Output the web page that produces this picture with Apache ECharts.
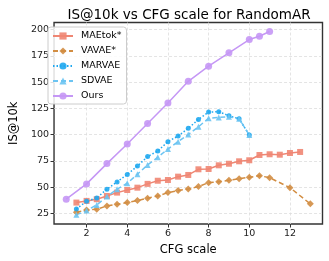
<!DOCTYPE html>
<html><head><meta charset="utf-8">
<script src="https://cdn.jsdelivr.net/npm/echarts@6/dist/echarts.min.js"></script>
<style>html,body{margin:0;padding:0;background:#fff}#c{width:329px;height:261px}</style>
</head><body><div id="c"></div>
<script>
const cfgMAEtok = [1.5,2,2.5,3,3.5,4,4.5,5,5.5,6,6.5,7,7.5,8,8.5,9,9.5,10,10.5,11,11.5,12,12.5];
const maetok = [35.2,36.8,38.4,41.5,44.7,47.2,49.4,53,56,56.7,59.9,61.5,66.9,67.2,70.7,72.2,74.5,75.5,80.5,81.2,80.8,82.4,83.4];
const cfgVAVAE = [1.5,2,2.5,3,3.5,4,4.5,5,5.5,6,6.5,7,7.5,8,8.5,9,9.5,10,10.5,11,12,13];
const vavae = [26,28.2,28.9,32,33.6,35.2,37.1,39.4,41.5,44.7,46.6,48.2,50.4,54.2,55.1,56.4,58,59.3,60.8,58.9,49.4,34];
const cfgMARVAE = [1.5,2,2.5,3,3.5,4,4.5,5,5.5,6,6.5,7,7.5,8,8.5,9,9.5,10];
const marvae = [29.2,36.4,39.6,48,54.9,62,70,79,84.3,93.2,98.6,105.9,114.4,121.4,121.7,117.9,115,99.5];
const cfgSDVAE = [1.5,2,2.5,3,3.5,4,4.5,5,5.5,6,6.5,7,7.5,8,8.5,9,9.5,10];
const sdvae = [23.5,27.6,33,40.9,48,53.6,62.2,71,78.3,86.2,93.2,100,107.4,115.4,116.3,116.9,115,99.5];
const cfgOurs = [1,2,3,4,5,6,7,8,9,10,10.5,11];
const ours = [38.4,53,72.3,91,110.5,130,150.7,165.1,177.8,190.5,193.6,198.1];
const xTicks = [2,4,6,8,10,12];
const yTicks = [25,50,75,100,125,150,175,200];
const names = ['MAEtok*','VAVAE*','MARVAE','SDVAE','Ours'];

const pairs = (xs, ys) => xs.map((x,i)=>[x, ys[i]]);
const F = 'DejaVu Sans';
function mk(name, xs, ys, color, lineType, symbol, size) {
  return {name, type:'line', data: pairs(xs, ys), symbol, symbolSize: size,
    lineStyle:{color, width:1.5, type: lineType}, itemStyle:{color, opacity:0.9},
    emphasis:{disabled:true}, animation:false, z: 3};
}
const chart = echarts.init(document.getElementById('c'), null, {renderer:'canvas'});
chart.setOption({
  animation:false,
  title:{text:'IS@10k vs CFG scale for RandomAR', left:184, textAlign:'center', top:3,
    textStyle:{fontFamily:F, fontSize:13.5, fontWeight:'normal', color:'#000'}},
  grid:{left:45, right:6.5, top:22.5, bottom:37, show:true, borderColor:'#333', borderWidth:1.4},
  legend:{orient:'vertical', left:48, top:27, itemWidth:20, itemHeight:9, itemGap:5,
    padding:[4,5,3,4], borderColor:'#ccc', borderWidth:1, borderRadius:3, backgroundColor:'rgba(255,255,255,0.85)',
    textStyle:{fontFamily:F, fontSize:9.5, color:'#000', padding:[0,0,0,3]}, data:names},
  xAxis:{type:'value', min:0.4, max:13.6, name:'CFG scale', nameLocation:'middle', nameGap:20,
    nameTextStyle:{fontFamily:F, fontSize:11.5, color:'#000'},
    axisLine:{show:false}, axisTick:{show:true, customValues:xTicks, length:3.5, lineStyle:{color:'#333'}},
    axisLabel:{customValues:xTicks, fontFamily:F, fontSize:9.5, color:'#222', margin:5},
    splitLine:{show:true, lineStyle:{color:'#ddd', type:[3,2], width:0.8}}},
  yAxis:{type:'value', min:14.8, max:206.7, name:'IS@10k', nameLocation:'middle', nameGap:29,
    nameTextStyle:{fontFamily:F, fontSize:11.5, color:'#000'},
    axisLine:{show:false}, axisTick:{show:true, customValues:yTicks, length:3.5, lineStyle:{color:'#333'}},
    axisLabel:{customValues:yTicks, fontFamily:F, fontSize:9.5, color:'#222', margin:5},
    splitLine:{show:true, lineStyle:{color:'#ddd', type:[3,2], width:0.8}}},
  series:[
    mk(names[0], cfgMAEtok, maetok, '#EF8673', 'solid', 'rect', 6),
    mk(names[1], cfgVAVAE, vavae, '#D28D42', [5,3], 'diamond', 7),
    mk(names[2], cfgMARVAE, marvae, '#1FA8F0', [1.5,2], 'circle', 5),
    mk(names[3], cfgSDVAE, sdvae, '#6CC4F2', [5,3], 'triangle', 6),
    mk(names[4], cfgOurs, ours, '#C597F5', 'solid', 'circle', 7)
  ]
});
</script></body></html>
